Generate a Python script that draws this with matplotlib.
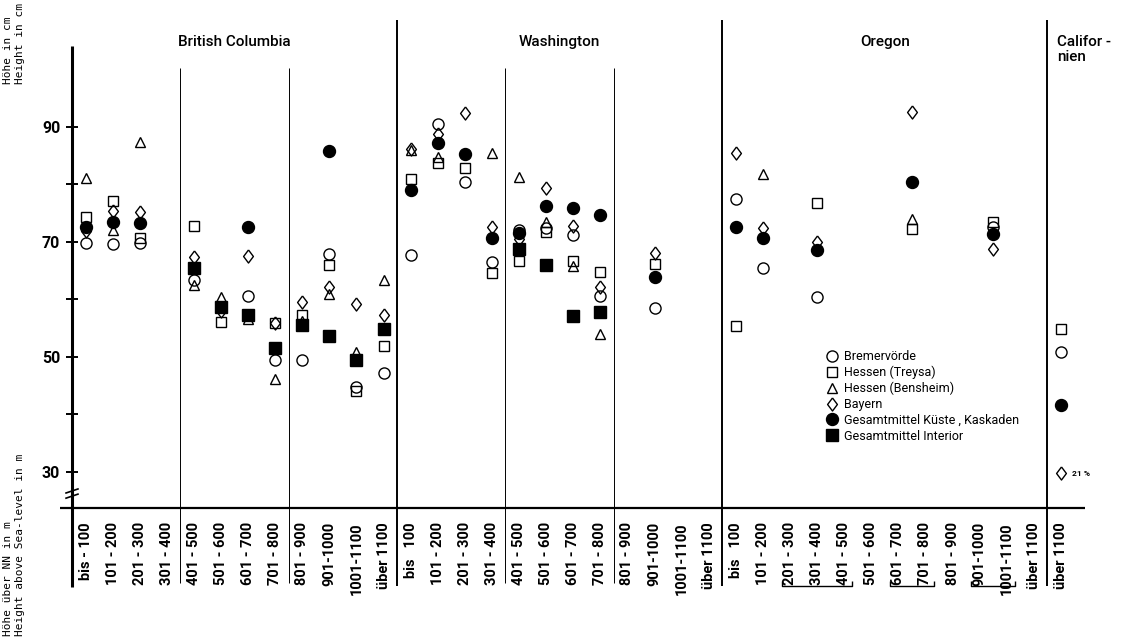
import matplotlib
matplotlib.use("Agg")
import matplotlib.pyplot as plt
from matplotlib import font_manager
from matplotlib.transforms import blended_transform_factory
import numpy as np

# ---------------------------------------------------------------- data
region_names = ["British Columbia", "Washington", "Oregon", "Califor -\nnien"]

ticks_bc = ["bis - 100", "101 - 200", "201 - 300", "301 - 400", "401 - 500",
            "501 - 600", "601 - 700", "701 - 800", "801 - 900", "901-1000",
            "1001-1100", "über 1100"]
ticks_wa = ["bis   100", "101 - 200", "201 - 300", "301 - 400", "401 - 500",
            "501 - 600", "601 - 700", "701 - 800", "801 - 900", "901-1000",
            "1001-1100", "über 1100"]
ticks_or = ["bis   100", "101 - 200", "201 - 300", "301 - 400", "401 - 500",
            "501 - 600", "601 - 700", "701 - 800", "801 - 900", "901-1000",
            "1001-1100", "über 1100"]
ticks_ca = ["über 1100"]

# each sample group: region index, first and last altitude class it covers
group_region = [0] * 11 + [1] * 9 + [2] * 5 + [3]
group_first = [0, 1, 2, 4, 5, 6, 7, 8, 9, 10, 11,
               0, 1, 2, 3, 4, 5, 6, 7, 9,
               0, 1, 2, 6, 9,
               0]
group_last = [0, 1, 2, 4, 5, 6, 7, 8, 9, 10, 11,
              0, 1, 2, 3, 4, 5, 6, 7, 9,
              0, 1, 4, 7, 10,
              0]

nan = np.nan
bremervoerde = [69.7, 69.6, 69.7, 63.4, 58.7, 60.5, 49.5, 49.5, 67.9, 44.7, 47.1,
                67.7, 90.5, 80.4, 66.5, 72.0, 72.3, 71.2, 60.6, 58.5,
                77.4, 65.5, 60.4, nan, 72.6,
                50.8]
treysa = [74.3, 77.1, 70.6, 72.7, 56.1, 57.2, 55.9, 57.2, 66.0, 44.1, 51.9,
          80.9, 83.7, 82.9, 64.5, 66.7, 71.7, 66.7, 64.8, 66.1,
          55.4, nan, 76.8, 72.2, 73.4,
          54.8]
bensheim = [81.0, 72.0, 87.3, 62.5, 60.4, 56.6, 46.1, 56.2, 60.9, 50.9, 63.3,
            86.0, 84.8, nan, 85.5, 81.3, 73.5, 65.7, 54.0, nan,
            nan, 81.7, nan, 73.9, nan,
            nan]
bayern = [71.9, 75.3, 75.2, 67.3, 58.0, 67.5, 55.8, 59.5, 62.2, 59.2, 57.3,
          86.1, 88.7, 92.3, 72.5, 70.5, 79.3, 72.8, 62.2, 68.0,
          85.5, 72.3, 70.0, 92.6, 68.7,
          29.7]
mittel_kueste = [72.5, 73.5, 73.3, nan, nan, 72.6, nan, nan, 85.8, nan, nan,
                 79.0, 87.1, 85.2, 70.6, 71.6, 76.2, 75.9, 74.6, 63.8,
                 72.5, 70.7, 68.6, 80.3, 71.3,
                 41.6]
mittel_interior = [nan, nan, nan, 65.5, 58.7, 57.3, 51.6, 55.5, 53.6, 49.5, 54.9,
                   nan, nan, nan, nan, 68.7, 66.0, 57.1, 57.8, nan,
                   nan, nan, nan, nan, nan,
                   nan]
bayern_note = "21 %"   # note attached to the Californian Bayern value

y_ticks = [30, 40, 50, 60, 70, 80, 90]
y_tick_labels = ["30", "", "50", "", "70", "", "90"]

# ---------------------------------------------------------------- fonts
available = {f.name for f in font_manager.fontManager.ttflist}


def pick(*names):
    for n in names:
        if n in available:
            return n
    return "DejaVu Sans"


SANS = pick("Roboto", "Liberation Sans", "DejaVu Sans")
MONO = pick("DejaVu Sans Mono", "Liberation Mono")
plt.rcParams["font.family"] = [SANS, "DejaVu Sans"]

# ---------------------------------------------------------------- layout
fig = plt.figure(figsize=(11.23, 6.38), dpi=100)
ax = fig.add_axes([72 / 1123, 130 / 638, 1016 / 1123, 488 / 638])
ax.set_xlim(-0.5, 37.0)
ax.set_ylim(23.69, 108.56)
for s in ax.spines.values():
    s.set_visible(False)

region_ticks = [ticks_bc, ticks_wa, ticks_or, ticks_ca]
region_offset = np.cumsum([0] + [len(t) for t in region_ticks[:-1]])
all_ticks = sum(region_ticks, [])
tick_pos = np.arange(len(all_ticks))

x = np.array([region_offset[r] + (a + b) / 2
              for r, a, b in zip(group_region, group_first, group_last)])

bt = blended_transform_factory(ax.transData, ax.transAxes)

# frame lines
line_kw = dict(color="black", transform=bt, clip_on=False, solid_capstyle="butt")
ax.plot([-0.5, -0.5], [0.947, -0.162], lw=2.2, **line_kw)
ax.plot([-0.94, 36.9], [0, 0], lw=1.6, **line_kw)
for r in range(1, len(region_ticks)):
    xs = region_offset[r] - 0.5
    ax.plot([xs, xs], [1.0, -0.16], lw=1.4, **line_kw)
for r in (0, 1):
    for k in (4, 8):
        xs = region_offset[r] + k - 0.5
        ax.plot([xs, xs], [0.902, -0.154], lw=0.7, **line_kw)

# brackets joining pooled altitude classes
for r, a, b in zip(group_region, group_first, group_last):
    if a != b:
        x0 = region_offset[r] + a - 0.3
        x1 = region_offset[r] + b + 0.3
        ax.plot([x0, x0, x1, x1], [-0.150, -0.160, -0.160, -0.150], lw=1.0, **line_kw)

# axis break mark
for y0 in (25.4, 26.3):
    ax.plot([-0.72, -0.28], [y0, y0 + 0.7], color="black", lw=1.2, clip_on=False)

# y axis
ax.set_yticks(y_ticks)
ax.set_yticklabels(y_tick_labels)
ax.tick_params(axis="y", direction="inout", length=9, width=1.4, pad=4,
               labelsize=11.5)
for lab in ax.get_yticklabels():
    lab.set_fontweight("bold")

# x axis
ax.set_xticks(tick_pos)
ax.set_xticklabels(all_ticks, rotation=90, fontsize=10.5, fontweight="bold")
ax.tick_params(axis="x", length=0, pad=10)

# region headings
for r, name in enumerate(region_names):
    if r < 3:
        cx = region_offset[r] + (len(region_ticks[r]) - 1) / 2
        ax.text(cx, 0.955, name, transform=bt, ha="center", va="center",
                fontsize=11, fontweight="medium")
    else:
        ax.text(region_offset[r] - 0.15, 0.94, name, transform=bt, ha="left",
                va="center", fontsize=11, fontweight="medium", linespacing=1.1)

# series
mk = dict(ls="none", color="black", clip_on=False)
open_kw = dict(mfc="none", mec="black", mew=1.0)
h1, = ax.plot(x, bremervoerde, marker="o", ms=8.0, label="Bremervörde", **open_kw, **mk)
h2, = ax.plot(x, treysa, marker="s", ms=7.8, label="Hessen (Treysa)", **open_kw, **mk)
h3, = ax.plot(x, bensheim, marker="^", ms=7.6, label="Hessen (Bensheim)", **open_kw, **mk)
diamond = [(0, 1), (0.75, 0), (0, -1), (-0.75, 0), (0, 1)]
h4, = ax.plot(x, bayern, marker=diamond, ms=9.4, label="Bayern", **open_kw, **mk)
h5, = ax.plot(x, mittel_kueste, marker="o", ms=8.6, mfc="black", mec="black",
              label="Gesamtmittel Küste , Kaskaden", **mk)
h6, = ax.plot(x, mittel_interior, marker="s", ms=8.0, mfc="black", mec="black",
              label="Gesamtmittel Interior", **mk)

# note next to the Californian Bayern value
i_note = len(x) - 1
ax.annotate(bayern_note, xy=(x[i_note], bayern[i_note]), xytext=(8, 0),
            textcoords="offset points", va="center", ha="left", fontsize=6,
            fontweight="bold")

leg = fig.legend(handles=[h1, h2, h3, h4, h5, h6], loc="upper left",
                 bbox_to_anchor=(826 / 1123, 1 - 350 / 638), frameon=False,
                 fontsize=9, handlelength=1.0, handletextpad=0.45,
                 labelspacing=0.22, borderpad=0, borderaxespad=0)

# axis captions
fig.text(8 / 1123, 1 - 84 / 638, "Höhe in cm", rotation=90, ha="center",
         va="bottom", family=MONO, fontsize=8)
fig.text(20 / 1123, 1 - 84 / 638, "Height in cm", rotation=90, ha="center",
         va="bottom", family=MONO, fontsize=8)
fig.text(8 / 1123, 2 / 638, "Höhe über NN in m", rotation=90, ha="center",
         va="bottom", family=MONO, fontsize=8)
fig.text(20 / 1123, 2 / 638, "Height above Sea-level in m", rotation=90,
         ha="center", va="bottom", family=MONO, fontsize=8)

fig.savefig("out.png", dpi=100, facecolor="white")
